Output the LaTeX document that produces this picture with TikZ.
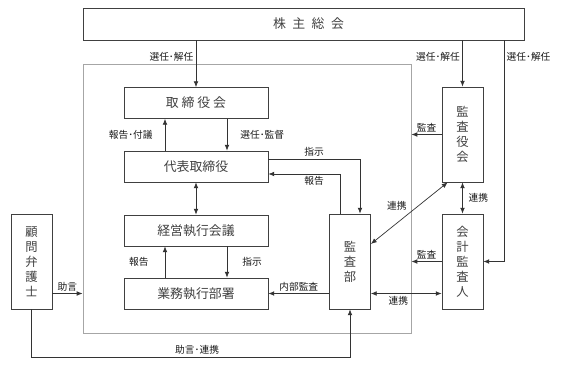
\documentclass[tikz,border=0pt]{standalone}
\usepackage{fontspec}
\setmainfont{Noto Sans CJK JP}
\usetikzlibrary{arrows.meta}

\begin{document}
\begin{tikzpicture}[x=0.03cm,y=-0.03cm,
  box/.style={draw=black!75,line width=0.6pt,inner sep=0pt,align=center,text=black!75,font=\fontsize{11}{13}\selectfont},
  hbox/.style={box,minimum width=4.32cm,minimum height=0.93cm},
  vbox/.style={box,minimum width=1.23cm,minimum height=2.85cm,font=\fontsize{10.5}{12.8}\selectfont},
  lbl/.style={font=\fontsize{8.3}{10}\selectfont,inner sep=2pt,text=black!90},
  arr/.style={draw=black!80,line width=0.6pt,-{Latex[length=5pt,width=4pt]}},
  darr/.style={arr,{Latex[length=5pt,width=4pt]}-{Latex[length=5pt,width=4pt]}},
  waku/.style={draw=black!35,line width=0.8pt}]
\useasboundingbox (0,0) rectangle (566,365);
% --- frame ---
\node[waku,minimum width=9.84cm,minimum height=8.07cm] (shikko) at (247,198.5) {};
% --- boxes ---
\node[box,minimum width=13.23cm,minimum height=0.96cm] (soukai) at (303.5,24) {\hspace{0.3cm}株\enspace 主\enspace 総\enspace 会};
\node[hbox] (torishimari) at (196,103) {取 締 役 会};
\node[hbox] (daihyo) at (196,166.5) {代表取締役};
\node[hbox] (keiei) at (196,230.5) {経営執行会議};
\node[hbox] (gyomu) at (196,293.5) {業務執行部署};
\node[vbox] (kansabu) at (350,261.5) {監\\査\\部};
\node[vbox] (kansayaku) at (462.5,134.5) {監\\査\\役\\会};
\node[vbox] (kaikei) at (462.5,261.5) {会\\計\\監\\査\\人};
\node[vbox] (komon) at (31.5,261.5) {顧\\問\\弁\\護\\士};
\coordinate (kaiR) at (504,40);
\coordinate (soko) at (32,357);
% --- shareholders ---
\draw[arr] (soukai.south -| torishimari.north) -- node[lbl,left,pos=0.36] {選任･解任} (torishimari.north);
\draw[arr] (soukai.south -| kansayaku.north) -- node[lbl,left,pos=0.36] {選任･解任} (kansayaku.north);
\draw[arr] (kaiR) -- node[lbl,right,pos=0.077] {選任･解任} (kaiR |- kaikei.east) -- (kaikei.east);
% --- executive side ---
\draw[arr] ([xshift=-0.93cm]daihyo.north) -- node[lbl,left,xshift=-0.29cm] {報告･付議} ([xshift=-0.93cm]torishimari.south);
\draw[arr] ([xshift=0.93cm]torishimari.south) -- node[lbl,right,xshift=0.32cm] {選任･監督} ([xshift=0.93cm]daihyo.north);
\draw[darr] (daihyo.south) -- (keiei.north);
\draw[arr] ([xshift=-0.93cm]gyomu.north) -- node[lbl,left,xshift=-0.41cm] {報告} ([xshift=-0.93cm]keiei.south);
\draw[arr] ([xshift=0.93cm]keiei.south) -- node[lbl,right,xshift=0.38cm] {指示} ([xshift=0.93cm]gyomu.north);
% --- internal audit ---
\draw[arr] ([yshift=0.225cm]daihyo.east) -| node[lbl,above,pos=0.25] {指示} ([xshift=0.3cm]kansabu.north);
\draw[arr] ([xshift=-0.3cm]kansabu.north) |- node[lbl,below,pos=0.68] {報告} ([yshift=-0.225cm]daihyo.east);
\draw[arr] (kansabu.west |- gyomu.east) -- node[lbl,above] {内部監査} (gyomu.east);
\draw[darr] (kansabu.east |- gyomu.east) -- node[lbl,below,pos=0.39] {連携} (kaikei.west |- gyomu.east);
\draw[darr] ([xshift=0.18cm]kansayaku.south west) -- node[lbl,above left,pos=0.5] {連携} ([yshift=0.525cm]kansabu.east);
% --- auditors ---
\draw[arr] (kansayaku.west) -- node[lbl,above] {監査} (kansayaku.west -| shikko.east);
\draw[arr] (kaikei.west) -- node[lbl,above] {監査} (kaikei.west -| shikko.east);
\draw[darr] (kansayaku.south) -- node[lbl,right,xshift=0.1cm] {連携} (kaikei.north);
% --- counsel ---
\draw[arr] (komon.east |- gyomu.east) -- node[lbl,above] {助言} (shikko.west |- gyomu.east);
\draw[arr] (komon.south) -- (komon.south |- soko) -| node[lbl,above,pos=0.26] {助言･連携} (kansabu.south);
\end{tikzpicture}
\end{document}
